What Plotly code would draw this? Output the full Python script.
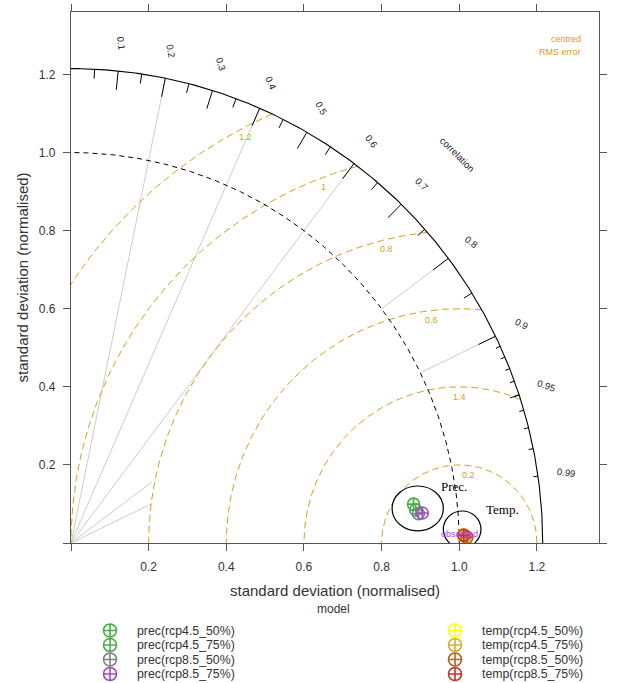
import numpy as np
import plotly.graph_objects as go

# ---------------- data ----------------
models = ["prec(rcp4.5_50%)", "prec(rcp4.5_75%)", "prec(rcp8.5_50%)", "prec(rcp8.5_75%)",
          "temp(rcp4.5_50%)", "temp(rcp4.5_75%)", "temp(rcp8.5_50%)", "temp(rcp8.5_75%)"]
model_colors = ["#3DB03D", "#52A852", "#808080", "#9A4FBF",
                "#FFFF1A", "#D2B032", "#B0622A", "#C8322E"]
sd_norm = [0.888, 0.892, 0.898, 0.908, 1.010, 1.016, 1.020, 1.012]
corr = [0.9937, 0.9955, 0.9965, 0.9964, 0.9998, 0.99985, 0.99990, 0.99980]

obs_sd = 1.0
max_sd = 1.215
rms_levels = [0.2, 0.4, 0.6, 0.8, 1.0, 1.2]
rms_labels = ["0.2", "1.4", "0.6", "0.8", "1", "1.2"]
rms_label_angle = [83.3, 89.9, 96.8, 103.6, 110.4, 117.3]

corr_major = [0.1, 0.2, 0.3, 0.4, 0.5, 0.6, 0.7, 0.8, 0.9]
corr_medium = [0.05, 0.15, 0.25, 0.35, 0.45, 0.55, 0.65, 0.75, 0.85, 0.95]
corr_minor = [0.91, 0.92, 0.93, 0.94, 0.95, 0.96, 0.97, 0.98, 0.99]
corr_labels = [0.1, 0.2, 0.3, 0.4, 0.5, 0.6, 0.7, 0.8, 0.9, 0.95, 0.99]
corr_label_text = ["0.1", "0.2", "0.3", "0.4", "0.5", "0.6", "0.7", "0.8", "0.9", "0.95", "0.99"]
corr_grid_full = [0.2, 0.4, 0.6]
corr_grid_split = [0.8, 0.9]

axis_ticks = [0, 0.2, 0.4, 0.6, 0.8, 1.0, 1.2]
axis_ticktext = ["", "0.2", "0.4", "0.6", "0.8", "1.0", "1.2"]

# ---------------- figure geometry ----------------
W, H = 619, 683
PX_L, PX_R, PX_T, PX_B = 71, 599, 12, 543
AX_MAX = 1.36

FONT = "Liberation Sans, Arial, sans-serif"
SERIF = "Liberation Serif, Times New Roman, serif"
GOLD = "#D4A020"

fig = go.Figure()


def add_line(xs, ys, color, width=1, dash=None):
    fig.add_trace(go.Scatter(x=xs, y=ys, mode="lines",
                             line=dict(color=color, width=width, dash=dash),
                             hoverinfo="skip", showlegend=False))


# correlation grid lines
gx, gy = [], []
for c in corr_grid_full:
    s = np.sqrt(1 - c * c)
    gx += [0, max_sd * c, None]
    gy += [0, max_sd * s, None]
for c in corr_grid_split:
    s = np.sqrt(1 - c * c)
    r_in = 0.21 / c
    gx += [0, r_in * c, None, obs_sd * c, max_sd * c, None]
    gy += [0, r_in * s, None, obs_sd * s, max_sd * s, None]
add_line(gx, gy, "#CCCCCC", 1)

# centred RMS contours
for g in rms_levels:
    cval = (max_sd ** 2 - obs_sd ** 2 - g ** 2) / (2 * g * obs_sd)
    th0 = np.arccos(cval) if cval < 1 else 0.0
    th = np.linspace(th0, np.pi, 300)
    add_line(obs_sd + g * np.cos(th), g * np.sin(th), GOLD, 1, "7px,4px")

# observed sd arc
th = np.linspace(0, np.pi / 2, 300)
add_line(obs_sd * np.cos(th), obs_sd * np.sin(th), "black", 1, "5px,4px")
# outer arc
add_line(max_sd * np.cos(th), max_sd * np.sin(th), "black", 1.1)

# ticks on outer arc
tx, ty = [], []
for vals, frac in ((corr_major, 0.96), (corr_medium, 0.98), (corr_minor, 0.99)):
    for c in vals:
        s = np.sqrt(1 - c * c)
        tx += [max_sd * c, frac * max_sd * c, None]
        ty += [max_sd * s, frac * max_sd * s, None]
add_line(tx, ty, "black", 1)

# model points
for m, col, sd, r in zip(models, model_colors, sd_norm, corr):
    fig.add_trace(go.Scatter(x=[sd * r], y=[sd * np.sqrt(1 - r * r)], mode="markers",
                             marker=dict(symbol="circle-cross-open", size=12,
                                         color=col, line=dict(width=1.6, color=col)),
                             name=m, showlegend=False, hoverinfo="name"))

annotations = []
# correlation labels
for c, t in zip(corr_labels, corr_label_text):
    ang = np.degrees(np.arccos(c))
    annotations.append(dict(x=1.06 * max_sd * c, y=1.06 * max_sd * np.sqrt(1 - c * c),
                            xref="x", yref="y", text=t, showarrow=False, textangle=ang,
                            font=dict(family=FONT, size=9.5, color="#222222")))
annotations.append(dict(x=1.158 * max_sd * np.cos(np.pi / 4), y=1.158 * max_sd * np.sin(np.pi / 4),
                        xref="x", yref="y", text="correlation", showarrow=False, textangle=45,
                        font=dict(family=FONT, size=9.5, color="#222222")))
# RMS labels
for g, t, a in zip(rms_levels, rms_labels, rms_label_angle):
    ar = np.radians(a)
    annotations.append(dict(x=obs_sd + g * np.cos(ar), y=g * np.sin(ar), xref="x", yref="y",
                            text=t, showarrow=False, yshift=-10,
                            font=dict(family=FONT, size=9, color=GOLD)))
annotations.append(dict(x=583 / W, y=1 - 39 / H, xref="paper", yref="paper", text="centred",
                        showarrow=False, xanchor="right", yanchor="middle",
                        font=dict(family=FONT, size=9, color=GOLD)))
annotations.append(dict(x=583 / W, y=1 - 52 / H, xref="paper", yref="paper", text="RMS error",
                        showarrow=False, xanchor="right", yanchor="middle",
                        font=dict(family=FONT, size=9, color=GOLD)))
# observed label
annotations.append(dict(x=obs_sd, y=0, xref="x", yref="y", text="observed", showarrow=False,
                        yshift=9, font=dict(family=FONT, size=9, color="#B040F0")))
# group labels
annotations.append(dict(x=0.9855, y=0.1436, xref="x", yref="y", text="Prec.", showarrow=False,
                        font=dict(family=SERIF, size=13, color="black")))
annotations.append(dict(x=1.1105, y=0.0846, xref="x", yref="y", text="Temp.", showarrow=False,
                        font=dict(family=SERIF, size=13, color="black")))

# axis titles
annotations.append(dict(x=(PX_L + PX_R) / 2 / W, y=1 - 590 / H, xref="paper", yref="paper",
                        text="standard deviation (normalised)", showarrow=False,
                        xanchor="center", yanchor="middle",
                        font=dict(family=FONT, size=15, color="#333333")))
annotations.append(dict(x=22 / W, y=1 - (PX_T + PX_B) / 2 / H, xref="paper", yref="paper",
                        text="standard deviation (normalised)", showarrow=False, textangle=-90,
                        xanchor="center", yanchor="middle",
                        font=dict(family=FONT, size=15, color="#333333")))

# ---------------- legend (drawn on a pixel overlay axis) ----------------
annotations.append(dict(x=333, y=609, xref="x2", yref="y2", text="model", showarrow=False,
                        font=dict(family=FONT, size=12, color="#333333")))
col_x = [110, 455]
row_y = [630.5, 645, 659.5, 674]
for i, (m, col) in enumerate(zip(models, model_colors)):
    cx = col_x[i // 4]
    cy = row_y[i % 4]
    fig.add_trace(go.Scatter(x=[cx], y=[cy], xaxis="x2", yaxis="y2", mode="markers",
                             marker=dict(symbol="circle-cross-open", size=13, color=col,
                                         line=dict(width=1.6, color=col)),
                             showlegend=False, hoverinfo="skip"))
    annotations.append(dict(x=cx + 25, y=cy, xref="x2", yref="y2", text=m, showarrow=False,
                            xanchor="left", font=dict(family=FONT, size=12.3, color="#333333")))

shapes = [
    dict(type="circle", xref="x", yref="y", x0=0.827, x1=0.959, y0=0.031, y1=0.146,
         line=dict(color="black", width=1.2)),
    dict(type="circle", xref="x", yref="y", x0=0.959, x1=1.056, y0=-0.012, y1=0.082,
         line=dict(color="black", width=1.2)),
]

axcommon = dict(range=[0, AX_MAX], showline=True, linecolor="#555555", linewidth=1.2,
                mirror="allticks", ticks="outside", ticklen=7, tickcolor="#555555",
                tickwidth=1.2, tickvals=axis_ticks, ticktext=axis_ticktext,
                showgrid=False, zeroline=False, ticklabelstandoff=5,
                tickfont=dict(family=FONT, size=12, color="#333333"))

fig.update_layout(
    width=W, height=H,
    margin=dict(l=0, r=0, t=0, b=0),
    paper_bgcolor="white", plot_bgcolor="rgba(0,0,0,0)",
    showlegend=False,
    xaxis=dict(domain=[PX_L / W, PX_R / W], anchor="y", **axcommon),
    yaxis=dict(domain=[1 - PX_B / H, 1 - PX_T / H], anchor="x", **axcommon),
    xaxis2=dict(domain=[0, 1], range=[0, W], visible=False, anchor="y2", fixedrange=True),
    yaxis2=dict(domain=[0, 1], range=[H, 0], visible=False, anchor="x2", fixedrange=True),
    annotations=annotations,
    shapes=shapes,
)

fig.write_html("out.html")
